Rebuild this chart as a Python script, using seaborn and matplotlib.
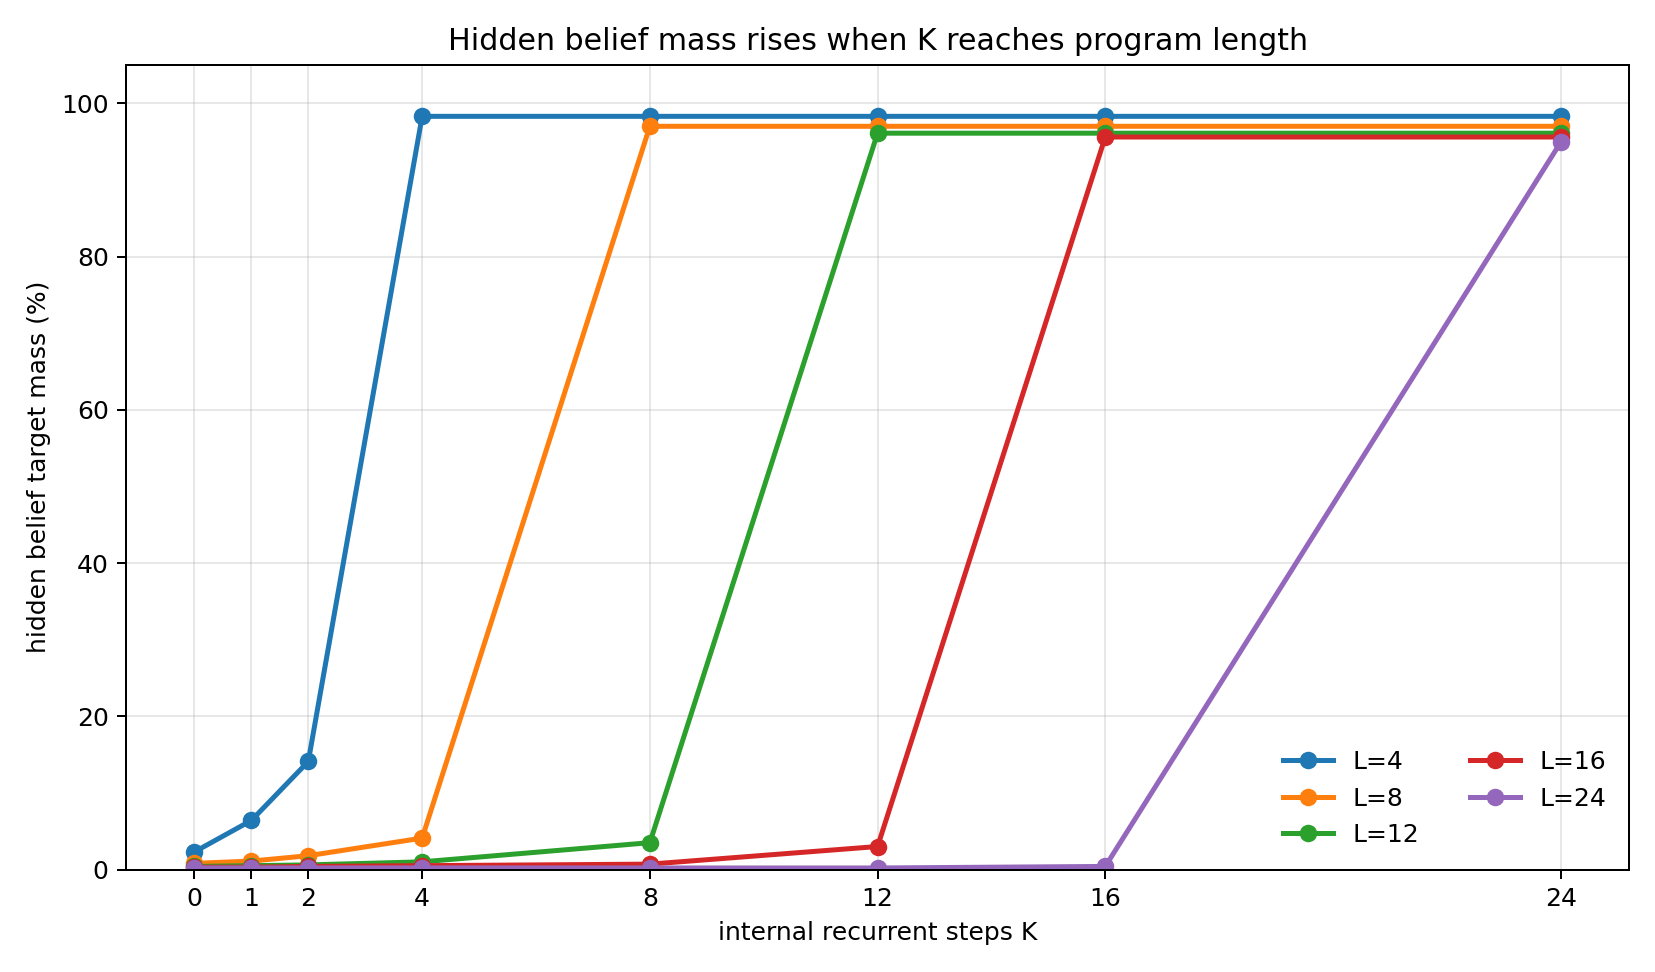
import pandas as pd
import numpy as np
import matplotlib.pyplot as plt
import seaborn as sns

# internal recurrent steps K and hidden belief target mass (%) per program length L
k_steps = [0, 1, 2, 4, 8, 12, 16, 24]
mass_l4 = [2.3, 6.4, 14.1, 98.3, 98.3, 98.3, 98.3, 98.3]
mass_l8 = [0.8, 1.1, 1.8, 4.1, 97.0, 97.0, 97.0, 97.0]
mass_l12 = [0.4, 0.5, 0.6, 1.0, 3.5, 96.1, 96.1, 96.1]
mass_l16 = [0.3, 0.3, 0.4, 0.5, 0.7, 3.0, 95.6, 95.6]
mass_l24 = [0.2, 0.2, 0.2, 0.2, 0.2, 0.2, 0.4, 94.9]
lengths = ['L=4', 'L=8', 'L=12', 'L=16', 'L=24']

series = [mass_l4, mass_l8, mass_l12, mass_l16, mass_l24]
df = pd.concat([
    pd.DataFrame({'K': k_steps, 'mass': vals, 'L': name})
    for name, vals in zip(lengths, series)
])

fig, ax = plt.subplots(figsize=(9.2, 5.4), dpi=180)
sns.lineplot(data=df, x='K', y='mass', hue='L', hue_order=lengths,
             palette='tab10', marker='o', markersize=7, markeredgewidth=0,
             linewidth=2, ax=ax)

ax.set_title('Hidden belief mass rises when K reaches program length')
ax.set_xlabel('internal recurrent steps K')
ax.set_ylabel('hidden belief target mass (%)')
ax.set_xticks(k_steps)
ax.set_ylim(0, 105)
ax.grid(True, alpha=0.3)
ax.legend(loc='lower right', ncol=2, frameon=False, title=None)

plt.tight_layout()
plt.savefig('out.png', dpi=180)
plt.close()
